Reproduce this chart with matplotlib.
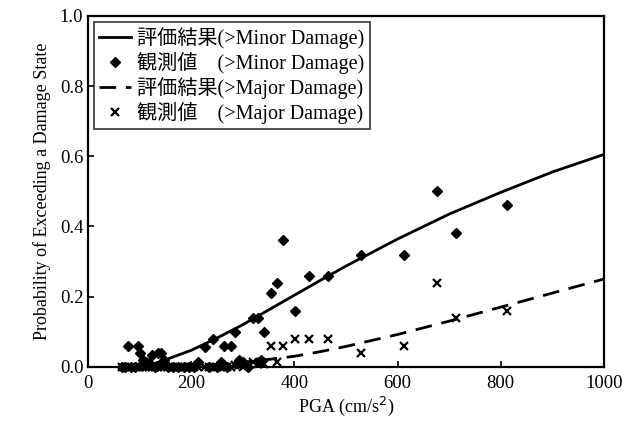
import matplotlib
matplotlib.use('Agg')
import matplotlib.pyplot as plt
import numpy as np

plt.rcParams['font.family'] = ['Liberation Serif', 'Noto Sans CJK JP']

# fitted curves
pga_curve = [130, 150, 200, 250, 300, 350, 400, 450, 500, 600, 700, 800, 900, 1000]
minor_curve = [0.01, 0.02, 0.047, 0.082, 0.12, 0.162, 0.204, 0.246, 0.287, 0.364, 0.435, 0.497, 0.555, 0.605]
major_curve = [0.0, 0.0, 0.003, 0.006, 0.013, 0.021, 0.03, 0.043, 0.058, 0.092, 0.13, 0.17, 0.21, 0.25]

# observed ratios
pga_obs = [65, 72, 78, 84, 90, 97, 101, 106, 113, 118, 124, 130, 136, 142, 148,
           155, 165, 175, 185, 195, 205, 214, 226, 235, 243, 250, 258, 264, 270,
           278, 285, 293, 301, 310, 320, 330, 336, 342, 355, 367, 377, 402, 428,
           466, 530, 612, 676, 713, 812]
minor_obs = [0, 0, 0.06, 0, 0, 0.06, 0.04, 0.02, 0.015, 0.01, 0.035, 0, 0.04, 0.04, 0.02,
             0, 0, 0, 0, 0, 0, 0.015, 0.055, 0, 0.08, 0, 0.015, 0.06, 0,
             0.06, 0.10, 0.02, 0.015, 0, 0.14, 0.14, 0.02, 0.10, 0.21, 0.24, 0.36, 0.16, 0.26,
             0.26, 0.32, 0.32, 0.50, 0.38, 0.46]
major_obs = [0, 0, 0, 0, 0, 0, 0, 0, 0, 0, 0, 0, 0, 0, 0,
             0, 0, 0, 0, 0, 0, 0, 0, 0, 0, 0, 0, 0, 0,
             0, 0.005, 0.005, 0, 0.008, 0.015, 0.008, 0.015, 0.008, 0.06, 0.015, 0.06, 0.08, 0.08,
             0.08, 0.04, 0.06, 0.24, 0.14, 0.16]

labels = ['評価結果(>Minor Damage)', '観測値\u3000(>Minor Damage)',
          '評価結果(>Major Damage)', '観測値\u3000(>Major Damage)']

fig = plt.figure(figsize=(6.25, 4.3), dpi=100)
ax = fig.add_axes([0.141, 0.147, 0.825, 0.816])

ax.plot(pga_curve, minor_curve, color='black', lw=2, label=labels[0])
ax.plot(pga_obs, minor_obs, 'D', color='black', ms=5, ls='none', label=labels[1], clip_on=False)
ax.plot(pga_curve, major_curve, color='black', lw=2, ls=(0, (6, 3.5)), label=labels[2])
ax.plot(pga_obs, major_obs, 'x', color='black', ms=6, mew=1.6, ls='none', label=labels[3], clip_on=False)

ax.set_xlim(0, 1000)
ax.set_ylim(0, 1.0)
ax.set_xticks([0, 200, 400, 600, 800, 1000])
ax.set_yticks([0.0, 0.2, 0.4, 0.6, 0.8, 1.0])
ax.set_yticklabels(['0.0', '0.2', '0.4', '0.6', '0.8', '1.0'])
ax.tick_params(direction='in', labelsize=13.5, length=4, width=1.2)
ax.tick_params(axis='x', pad=6)
for s in ax.spines.values():
    s.set_linewidth(1.6)

ax.set_xlabel('PGA (cm/s$^2$)', fontsize=13, labelpad=2)
ax.set_ylabel('Probability of Exceeding a Damage State', fontsize=13, labelpad=6)

leg = ax.legend(loc='upper left', fontsize=14.5, frameon=True, fancybox=False,
                edgecolor='black', handlelength=1.6, handletextpad=0.3,
                labelspacing=0.15, borderaxespad=0.3, borderpad=0.25)
leg.get_frame().set_linewidth(1.2)

fig.savefig('out.png', dpi=100)
